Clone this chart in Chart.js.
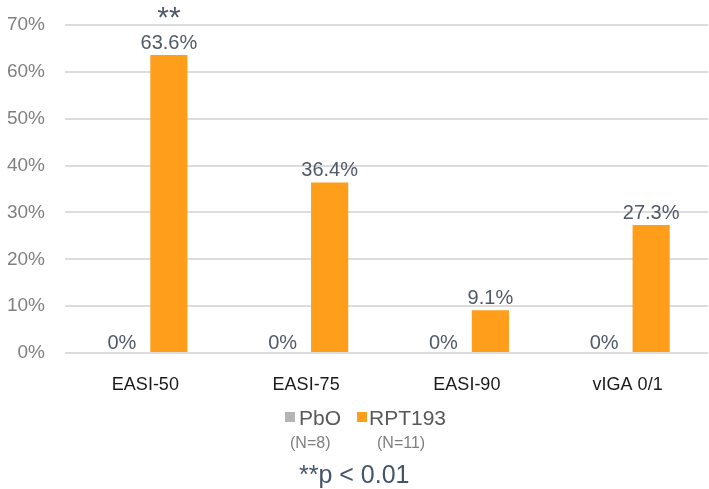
<!DOCTYPE html>
<html>
<head>
<meta charset="utf-8">
<script src="https://cdn.jsdelivr.net/npm/chart.js@4/dist/chart.umd.min.js"></script>
<style>
  html, body { margin: 0; padding: 0; background: #ffffff; }
  #wrap { position: relative; width: 709px; height: 489px; overflow: hidden; }
  canvas { position: absolute; left: 0; top: 0; }
  .t { position: absolute; font-family: Arial, "Liberation Sans", sans-serif; color: #595959; white-space: nowrap; line-height: 1; }
  .box { position: absolute; width: 10px; height: 10px; }
</style>
</head>
<body>
<div id="wrap">
  <canvas id="c" width="709" height="489"></canvas>
  <div class="box" style="left:285px; top:412px; background:#b4b4b4;"></div>
  <div class="t" id="lg0" style="left:299px; top:407px; font-size:21px;"></div>
  <div class="box" style="left:357px; top:412px; background:#ff9e1b;"></div>
  <div class="t" id="lg1" style="left:369px; top:407px; font-size:21px;"></div>
  <div class="t" id="n0" style="left:290px; top:435px; font-size:16px; color:#7f7f7f;"></div>
  <div class="t" id="n1" style="left:377px; top:435px; font-size:16px; color:#7f7f7f;"></div>
  <div class="t" style="left:299px; top:462px; font-size:25px; color:#44546a;">**p &lt; 0.01</div>
</div>
<script>
const categories = ['EASI-50', 'EASI-75', 'EASI-90', 'vIGA 0/1'];
const seriesNames = ['PbO', 'RPT193'];
const seriesN = ['(N=8)', '(N=11)'];
const pboValues = [0, 0, 0, 0];
const rptValues = [63.6, 36.4, 9.1, 27.3];
const significance = ['**', '', '', ''];
const yTicks = [0, 10, 20, 30, 40, 50, 60, 70];

document.getElementById('lg0').textContent = seriesNames[0];
document.getElementById('lg1').textContent = seriesNames[1];
document.getElementById('n0').textContent = seriesN[0];
document.getElementById('n1').textContent = seriesN[1];

const FONT = 'Arial, "Liberation Sans", sans-serif';

const labelPlugin = {
  id: 'barLabels',
  afterDatasetsDraw(chart) {
    const ctx = chart.ctx;
    ctx.save();
    ctx.textAlign = 'center';
    ctx.textBaseline = 'alphabetic';
    chart.data.datasets.forEach((ds, di) => {
      const meta = chart.getDatasetMeta(di);
      meta.data.forEach((bar, i) => {
        const v = ds.data[i];
        ctx.fillStyle = '#505a6a';
        ctx.font = '20px ' + FONT;
        ctx.fillText(v + '%', bar.x, bar.y - (v === 0 ? 4 : 6));
        if (di === 1 && significance[i]) {
          ctx.font = '30px ' + FONT;
          ctx.fillText(significance[i], bar.x, bar.y - 28);
        }
      });
    });
    ctx.restore();
  }
};

new Chart(document.getElementById('c'), {
  type: 'bar',
  data: {
    labels: categories,
    datasets: [
      { label: seriesNames[0], data: pboValues, backgroundColor: '#b4b4b4', borderWidth: 0 },
      { label: seriesNames[1], data: rptValues, backgroundColor: '#ff9e1b', borderWidth: 0 }
    ]
  },
  options: {
    responsive: false,
    animation: false,
    devicePixelRatio: 1,
    layout: { padding: { top: 25, right: 1, left: 0, bottom: 86 } },
    datasets: { bar: { categoryPercentage: 0.585, barPercentage: 0.79 } },
    plugins: {
      tooltip: { enabled: false },
      legend: { display: false }
    },
    scales: {
      x: {
        afterFit(scale) { scale.height = 50; scale.paddingLeft = 0; scale.paddingRight = 0; },
        grid: { display: false, drawTicks: false },
        border: { display: false },
        ticks: { color: '#1a1a1a', padding: 21, font: { family: FONT, size: 18 } }
      },
      y: {
        min: 0, max: 70,
        afterFit(scale) { scale.width = 65; scale.paddingTop = 0; scale.paddingBottom = 0; },
        afterBuildTicks(scale) { scale.ticks = yTicks.map(v => ({ value: v })); },
        grid: { color: '#dcdcdc', lineWidth: 2, drawTicks: false },
        border: { display: false },
        ticks: {
          color: '#808080', padding: 20,
          font: { family: FONT, size: 19 },
          callback: v => v + '%'
        }
      }
    }
  },
  plugins: [labelPlugin]
});
</script>
</body>
</html>
